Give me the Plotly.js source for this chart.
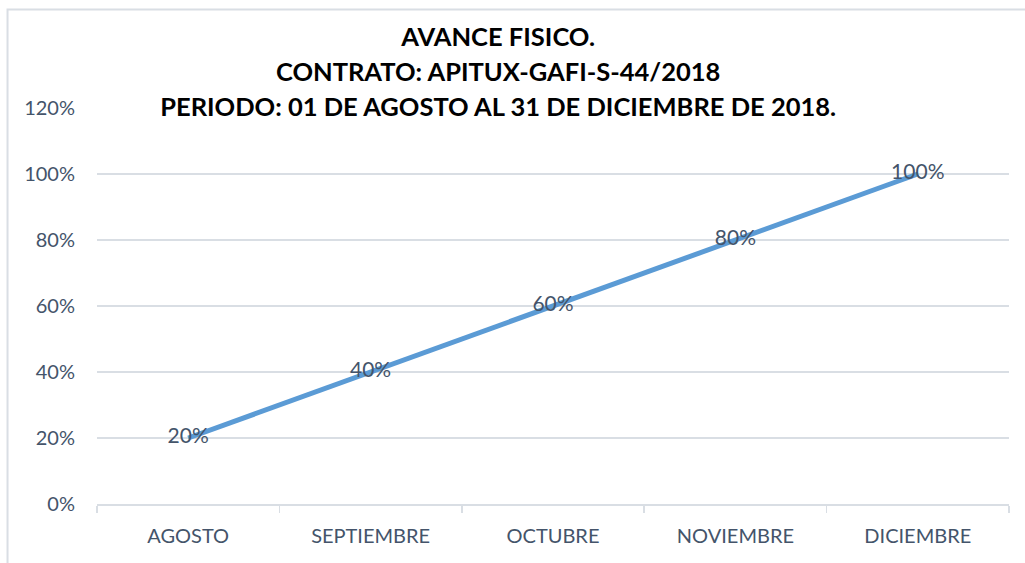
<!DOCTYPE html>
<html>
<head>
<meta charset="utf-8">
<script src="https://cdn.plot.ly/plotly-3.0.1.min.js"></script>
<style>html,body{margin:0;padding:0;background:#fff;}#chart{width:1025px;height:563px;}</style>
</head>
<body>
<div id="chart"></div>
<script>
const months = ["AGOSTO", "SEPTIEMBRE", "OCTUBRE", "NOVIEMBRE", "DICIEMBRE"];
const avance = [0.20, 0.40, 0.60, 0.80, 1.00];
const yTickVals = [0, 0.2, 0.4, 0.6, 0.8, 1.0, 1.2];
const yTickText = ["0%", "20%", "40%", "60%", "80%", "100%", "120%"];
const titleLines = ["AVANCE FISICO.", "CONTRATO: APITUX-GAFI-S-44/2018", "PERIODO: 01 DE AGOSTO AL 31 DE DICIEMBRE DE 2018."];

const labelColor = "#44546A";
const gridColor = "#D9DEE4";

const trace = {
  x: months,
  y: avance,
  type: "scatter",
  mode: "lines+text",
  line: {color: "#5B9BD5", width: 5},
  text: avance.map(v => Math.round(v * 100) + "%"),
  textposition: "middle center",
  textfont: {family: "Lato, 'Open Sans', sans-serif", size: 21, color: labelColor},
  hoverinfo: "x+y",
  showlegend: false
};

const layout = {
  width: 1025,
  height: 563,
  margin: {l: 97, r: 16, t: 108, b: 59},
  paper_bgcolor: "#ffffff",
  plot_bgcolor: "#ffffff",
  font: {family: "Lato, 'Open Sans', sans-serif", color: labelColor},
  title: {
    text: titleLines.map(t => '<span style="font-size:25.5px">' + t + '</span>').join("<br>"),
    font: {family: "Lato, 'Open Sans', sans-serif", size: 27, color: "#000000", weight: "bold"},
    x: 0.486, xanchor: "center", xref: "container",
    y: 1 - 46 / 563, yanchor: "middle", yref: "container"
  },
  xaxis: {
    type: "category",
    range: [-0.5, 4.5],
    showgrid: false,
    showline: true,
    linecolor: gridColor,
    linewidth: 1.5,
    ticks: "outside",
    tickson: "boundaries",
    ticklen: 7,
    tickcolor: gridColor,
    tickwidth: 1.5,
    ticklabelstandoff: 13,
    tickfont: {size: 20, color: labelColor},
    zeroline: false,
    fixedrange: true
  },
  yaxis: {
    range: [0, 1.2],
    tickvals: yTickVals,
    ticktext: yTickText,
    showgrid: true,
    gridcolor: gridColor,
    gridwidth: 1.5,
    zeroline: false,
    showline: false,
    ticks: "",
    ticklabelstandoff: 21,
    tickfont: {size: 20, color: labelColor},
    fixedrange: true
  },
  shapes: [{
    type: "rect", xref: "paper", yref: "paper",
    x0: -0.0981, x1: 1.05, y0: -0.2, y1: 1.2487,
    line: {color: gridColor, width: 2},
    fillcolor: "rgba(0,0,0,0)",
    layer: "below"
  }]
};

Plotly.newPlot("chart", [trace], layout, {displayModeBar: false, staticPlot: true});
</script>
</body>
</html>
